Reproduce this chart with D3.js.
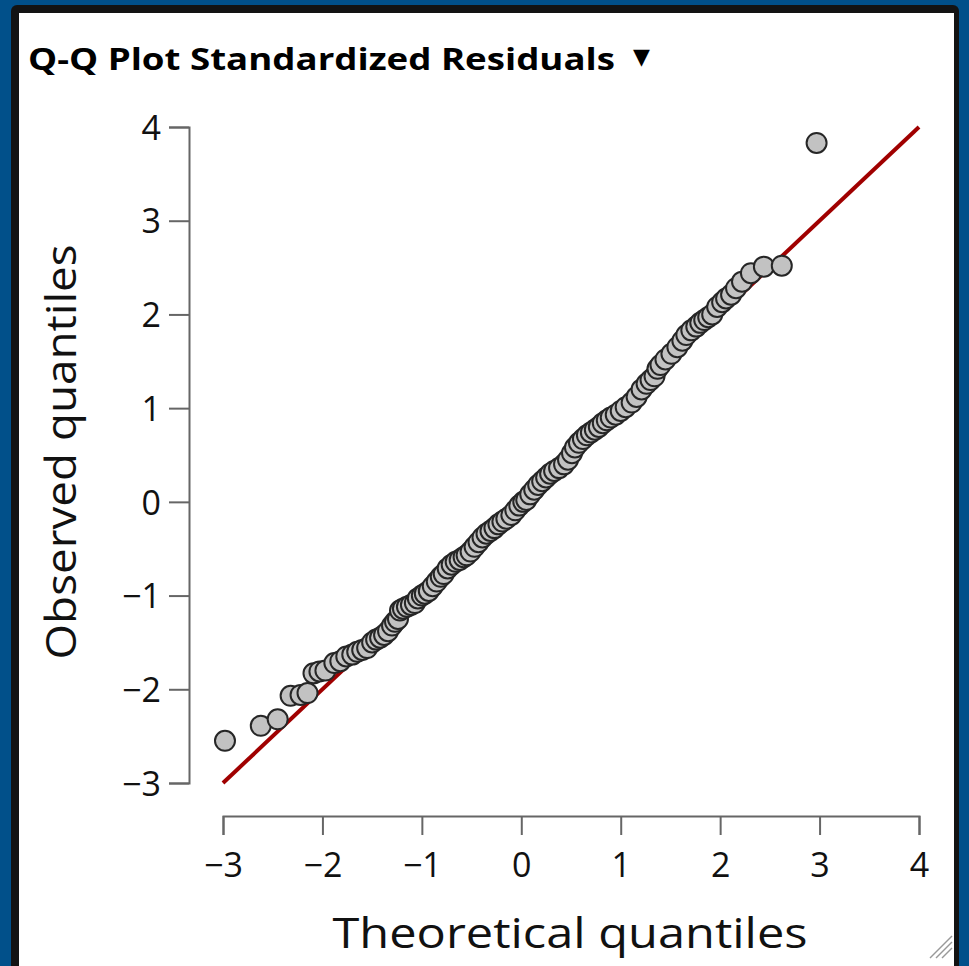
<!DOCTYPE html>
<html>
<head>
<meta charset="utf-8">
<script src="https://cdn.jsdelivr.net/npm/d3@7"></script>
<style>
  html, body { margin: 0; padding: 0; background: #01508a; }
  svg { display: block; }
</style>
</head>
<body>
<svg id="chart" width="969" height="966"></svg>
<script>
// ---- Data ----
const theoretical = [
  -2.98, -2.62, -2.45, -2.32, -2.22, -2.15, -2.09, -2.03, -1.97, -1.88,
  -1.82, -1.76, -1.70, -1.65, -1.60, -1.55, -1.50, -1.46, -1.42, -1.38,
  -1.34, -1.30, -1.27, -1.24, -1.22, -1.19, -1.15, -1.11, -1.07, -1.04,
  -1.00, -0.97, -0.93, -0.89, -0.85, -0.81, -0.78, -0.74, -0.70, -0.66,
  -0.62, -0.58, -0.55, -0.51, -0.47, -0.43, -0.39, -0.35, -0.31, -0.27,
  -0.23, -0.19, -0.15, -0.10, -0.06, -0.02, 0.02, 0.05, 0.09, 0.13,
  0.17, 0.21, 0.25, 0.29, 0.33, 0.38, 0.43, 0.47, 0.51, 0.54,
  0.58, 0.62, 0.66, 0.70, 0.74, 0.78, 0.82, 0.86, 0.90, 0.95,
  1.00, 1.05, 1.11, 1.16, 1.21, 1.26, 1.30, 1.34, 1.37, 1.40,
  1.45, 1.51, 1.57, 1.62, 1.66, 1.71, 1.76, 1.80, 1.84, 1.88,
  1.92, 1.97, 2.02, 2.06, 2.11, 2.16, 2.22, 2.31, 2.44, 2.62,
  2.97
];
const observed = [
  -2.55, -2.39, -2.32, -2.07, -2.06, -2.04, -1.83, -1.81, -1.80, -1.72,
  -1.70, -1.65, -1.63, -1.60, -1.58, -1.56, -1.50, -1.47, -1.45, -1.42,
  -1.38, -1.32, -1.28, -1.25, -1.16, -1.14, -1.12, -1.10, -1.08, -1.03,
  -1.00, -0.98, -0.95, -0.90, -0.85, -0.80, -0.77, -0.71, -0.67, -0.64,
  -0.62, -0.59, -0.57, -0.53, -0.48, -0.43, -0.38, -0.34, -0.31, -0.28,
  -0.24, -0.21, -0.18, -0.14, -0.09, -0.04, 0.00, 0.02, 0.08, 0.13,
  0.18, 0.22, 0.26, 0.30, 0.33, 0.36, 0.40, 0.45, 0.52, 0.58,
  0.63, 0.67, 0.71, 0.74, 0.77, 0.80, 0.84, 0.87, 0.90, 0.93,
  0.97, 1.01, 1.06, 1.12, 1.20, 1.26, 1.30, 1.34, 1.42, 1.46,
  1.52, 1.58, 1.65, 1.72, 1.78, 1.83, 1.87, 1.91, 1.94, 1.97,
  2.00, 2.08, 2.13, 2.17, 2.21, 2.28, 2.35, 2.44, 2.51, 2.52,
  3.83
];
const xTicks = [-3, -2, -1, 0, 1, 2, 3, 4];
const yTicks = [-3, -2, -1, 0, 1, 2, 3, 4];
const refLine = [-3, 4];   // identity line endpoints
const titleText = "Q-Q Plot Standardized Residuals";
const xTitle = "Theoretical quantiles";
const yTitle = "Observed quantiles";

// ---- Drawing ----
const svg = d3.select("#chart");
const W = 969, H = 966;

// panel frame
svg.append("rect").attr("x", 0).attr("y", 0).attr("width", W).attr("height", H).attr("fill", "#01508a");
svg.append("rect").attr("x", 11).attr("y", 5).attr("width", 948).attr("height", H + 20)
  .attr("rx", 6).attr("fill", "#131313");
svg.append("rect").attr("x", 19).attr("y", 13).attr("width", 935).attr("height", H)
  .attr("fill", "#ffffff");

// title
svg.append("text").attr("x", 28).attr("y", 70)
  .attr("font-family", "'Open Sans', 'DejaVu Sans', sans-serif")
  .attr("font-weight", "bold").attr("font-size", 30)
  .attr("textLength", 587).attr("lengthAdjust", "spacingAndGlyphs")
  .attr("fill", "#000").text(titleText);
svg.append("text").attr("x", 633).attr("y", 64)
  .attr("font-family", "'DejaVu Sans', sans-serif")
  .attr("font-size", 22).attr("fill", "#000").text("\u25BC");

const x = d3.scaleLinear().domain([-3, 4]).range([223, 919]);
const y = d3.scaleLinear().domain([-3, 4]).range([783, 127]);

const fmt = d => (d < 0 ? "\u2212" + Math.abs(d) : String(d));
const tickFont = "'Open Sans', 'Noto Sans', sans-serif";

// x axis
const gx = svg.append("g").attr("transform", "translate(0,816)")
  .call(d3.axisBottom(x).tickValues(xTicks).tickFormat(fmt).tickSize(19).tickSizeOuter(19));
gx.select(".domain").attr("stroke", "#666").attr("stroke-width", 2);
gx.selectAll(".tick line").attr("stroke", "#666").attr("stroke-width", 2);
gx.selectAll(".tick text").attr("y", 61).attr("dy", 0)
  .attr("font-family", tickFont).attr("font-size", 34).attr("fill", "#111");

// y axis
const gy = svg.append("g").attr("transform", "translate(189,0)")
  .call(d3.axisLeft(y).tickValues(yTicks).tickFormat(fmt).tickSize(20).tickSizeOuter(20).tickPadding(8));
gy.select(".domain").attr("stroke", "#666").attr("stroke-width", 2);
gy.selectAll(".tick line").attr("stroke", "#666").attr("stroke-width", 2);
gy.selectAll(".tick text").attr("dy", "0.36em")
  .attr("font-family", tickFont).attr("font-size", 34).attr("fill", "#111");

// axis titles
svg.append("text").attr("x", 570).attr("y", 948).attr("text-anchor", "middle")
  .attr("font-family", tickFont).attr("font-size", 42)
  .attr("textLength", 475).attr("lengthAdjust", "spacingAndGlyphs")
  .attr("fill", "#111").text(xTitle);
svg.append("text").attr("transform", "translate(76,452) rotate(-90)").attr("text-anchor", "middle")
  .attr("font-family", tickFont).attr("font-size", 42)
  .attr("textLength", 415).attr("lengthAdjust", "spacingAndGlyphs")
  .attr("fill", "#111").text(yTitle);

// reference line
svg.append("line")
  .attr("x1", x(refLine[0])).attr("y1", y(refLine[0]))
  .attr("x2", x(refLine[1])).attr("y2", y(refLine[1]))
  .attr("stroke", "#a00000").attr("stroke-width", 4);

// points
const pts = theoretical.map((t, i) => ({ t, o: observed[i] }));
svg.append("g").selectAll("circle").data(pts).join("circle")
  .attr("cx", d => x(d.t)).attr("cy", d => y(d.o)).attr("r", 10)
  .attr("fill", "#c2c2c2").attr("stroke", "#262626").attr("stroke-width", 2);

// resize grip
const grip = svg.append("g").attr("stroke", "#999").attr("stroke-width", 1.5);
[[930, 958, 952, 936], [936, 958, 952, 942], [942, 958, 952, 948]].forEach(l =>
  grip.append("line").attr("x1", l[0]).attr("y1", l[1]).attr("x2", l[2]).attr("y2", l[3]));
</script>
</body>
</html>
